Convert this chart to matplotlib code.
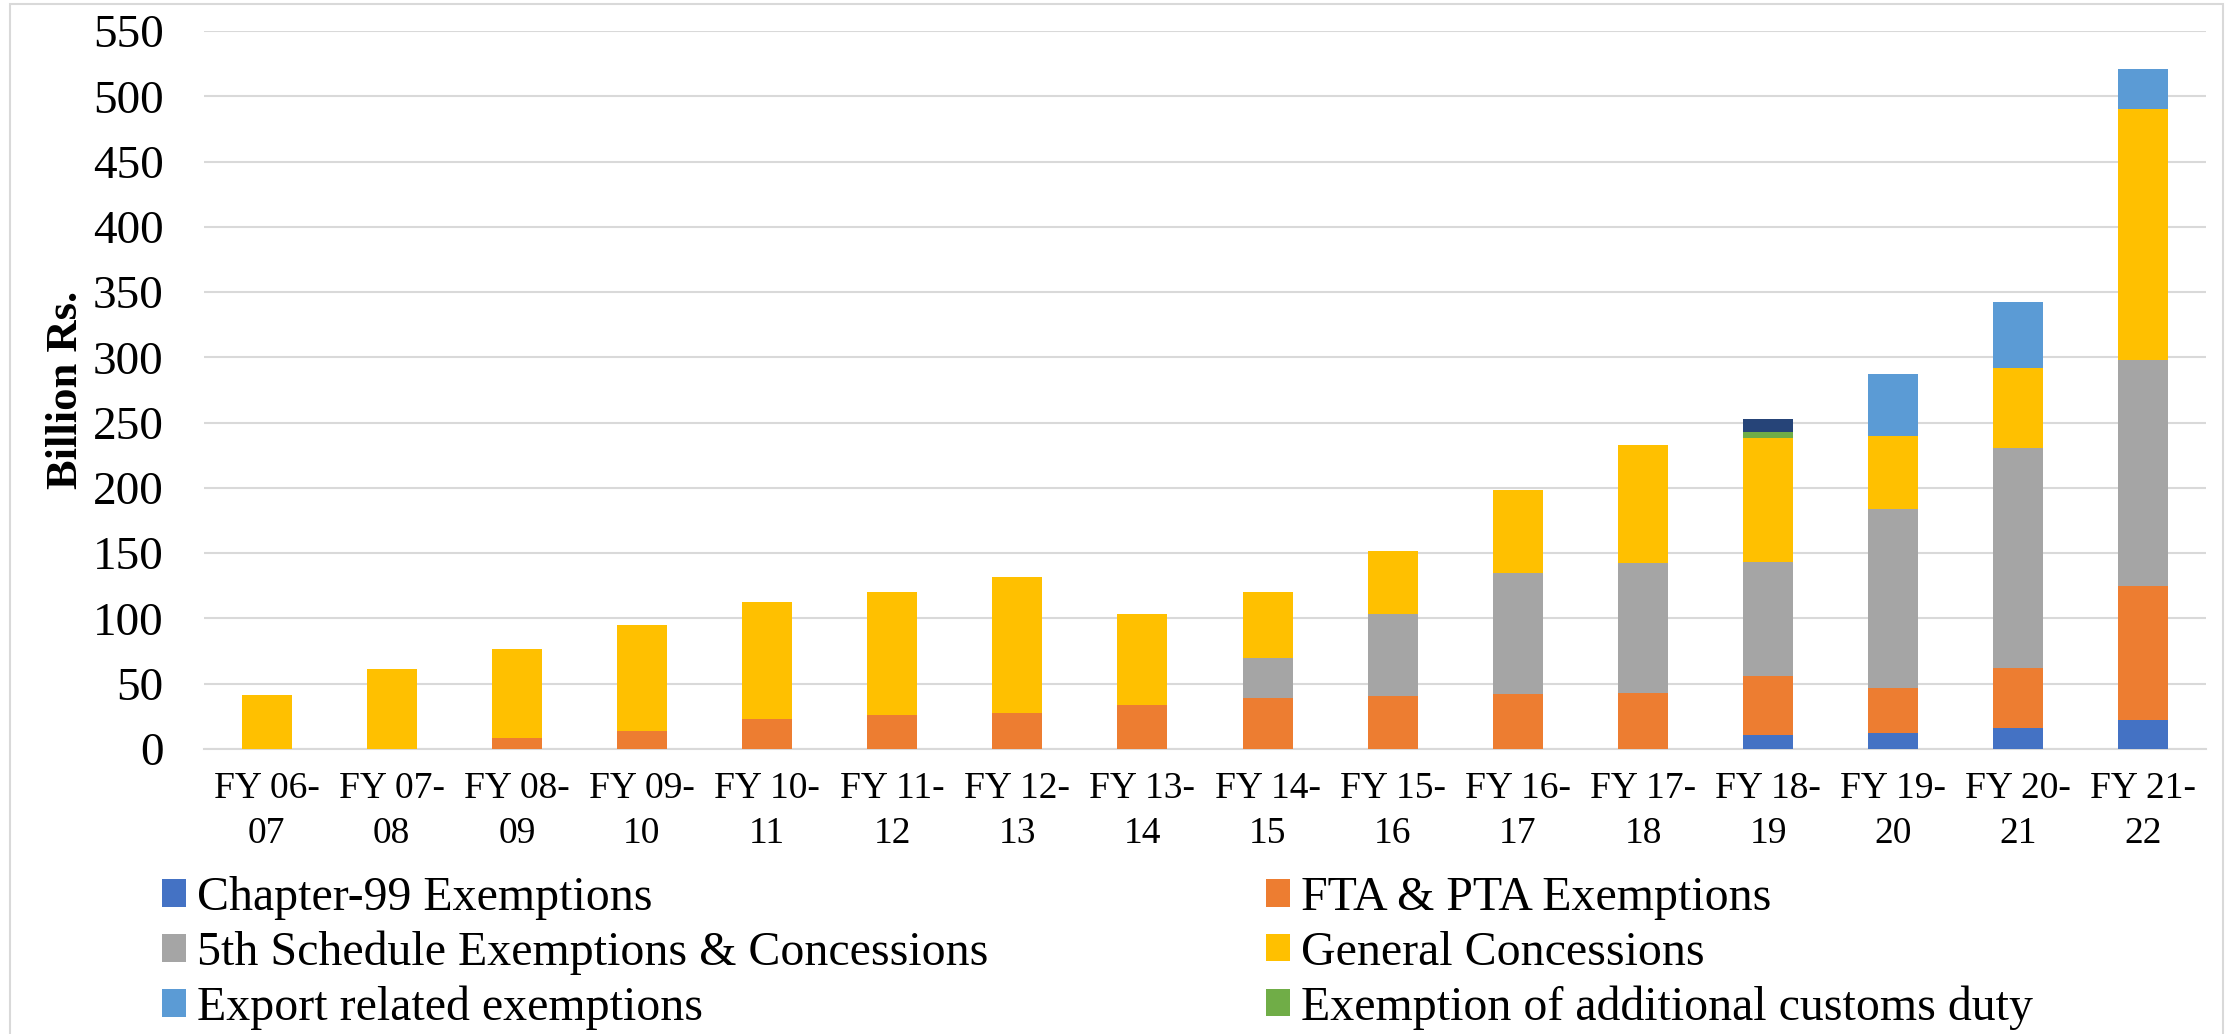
import matplotlib
matplotlib.use("Agg")
import matplotlib.pyplot as plt
from matplotlib.patches import Patch, Rectangle
import numpy as np

plt.rcParams['font.family'] = ['Liberation Serif', 'DejaVu Serif']

categories = ['FY 06-\n07', 'FY 07-\n08', 'FY 08-\n09', 'FY 09-\n10', 'FY 10-\n11',
              'FY 11-\n12', 'FY 12-\n13', 'FY 13-\n14', 'FY 14-\n15', 'FY 15-\n16',
              'FY 16-\n17', 'FY 17-\n18', 'FY 18-\n19', 'FY 19-\n20', 'FY 20-\n21',
              'FY 21-\n22']

# billion Rs., stacked from the bottom
chapter99 = [0, 0, 0, 0, 0, 0, 0, 0, 0, 0, 0, 0, 10.7, 12.5, 16.1, 22.2]
fta_pta = [0, 0, 8.4, 14.0, 23.0, 26.1, 27.9, 34.0, 39.1, 40.9, 42.4, 43.2, 45.2, 34.5, 46.2, 102.5]
fifth_schedule = [0, 0, 0, 0, 0, 0, 0, 0, 30.7, 62.5, 92.2, 99.3, 87.5, 136.9, 168.0, 172.9]
general = [41.6, 61.2, 67.9, 80.9, 89.3, 93.8, 103.8, 69.3, 50.3, 48.0, 63.6, 90.6, 95.1, 56.1, 61.2, 193.0]
export = [0, 0, 0, 0, 0, 0, 0, 0, 0, 0, 0, 0, 0, 47.0, 51.0, 30.6]
add_customs = [0, 0, 0, 0, 0, 0, 0, 0, 0, 0, 0, 0, 4.6, 0, 0, 0]
unlabelled = [0, 0, 0, 0, 0, 0, 0, 0, 0, 0, 0, 0, 9.9, 0, 0, 0]

series = [
    ('Chapter-99 Exemptions', chapter99, '#4472C4'),
    ('FTA & PTA Exemptions', fta_pta, '#ED7D31'),
    ('5th Schedule Exemptions & Concessions', fifth_schedule, '#A5A5A5'),
    ('General Concessions', general, '#FFC000'),
    ('Export related exemptions', export, '#5B9BD5'),
    ('Exemption of additional customs duty', add_customs, '#70AD47'),
    (None, unlabelled, '#264478'),
]

W, H = 2236, 1034
fig = plt.figure(figsize=(W / 100, H / 100), dpi=100)
ax = fig.add_axes([204 / W, 1 - 749 / H, (2206 - 204) / W, (749 - 31) / H])

x = np.arange(len(categories))
bottom = np.zeros(len(categories))
handles = {}
for name, vals, col in series:
    vals = np.array(vals)
    ax.bar(x, vals, 0.40, bottom=bottom, color=col, zorder=3)
    bottom += vals
    if name:
        handles[name] = Patch(facecolor=col)

ax.set_xlim(-0.5, len(categories) - 0.5)
ax.set_ylim(0, 550)
ax.set_yticks(np.arange(0, 551, 50))
ax.set_xticks(x)
ax.set_xticklabels(categories, fontsize=27, linespacing=1.4)
ax.tick_params(axis='y', labelsize=34, length=0, pad=29)
ax.tick_params(axis='x', length=0, pad=16)
ax.grid(axis='y', color='#d9d9d9', linewidth=1.5, zorder=0)
for s in ['top', 'right', 'left']:
    ax.spines[s].set_visible(False)
ax.spines['bottom'].set_color('#d9d9d9')
ax.spines['bottom'].set_linewidth(1.5)

ax.set_ylabel('Billion Rs.', fontsize=32, fontweight='bold')
ax.yaxis.set_label_coords(-0.059, 0.5)

# two legend columns, placed like the Excel legend
cols = [['Chapter-99 Exemptions', '5th Schedule Exemptions & Concessions', 'Export related exemptions'],
        ['FTA & PTA Exemptions', 'General Concessions', 'Exemption of additional customs duty']]
for names, left in zip(cols, [162, 1266]):
    fig.legend([handles[n] for n in names], names, loc='upper left',
               bbox_to_anchor=(left / W, 1 - 876 / H), frameon=False,
               fontsize=34.5, handlelength=0.5, handleheight=0.5,
               handletextpad=0.23, labelspacing=0.22, borderpad=0, borderaxespad=0)

fig.patches.append(Rectangle((10 / W, -0.01), (2223 - 10) / W, 1.0 - 4 / H + 0.01,
                             transform=fig.transFigure, fill=False,
                             edgecolor='#d9d9d9', linewidth=1.5))

fig.savefig('out.png', dpi=100)
